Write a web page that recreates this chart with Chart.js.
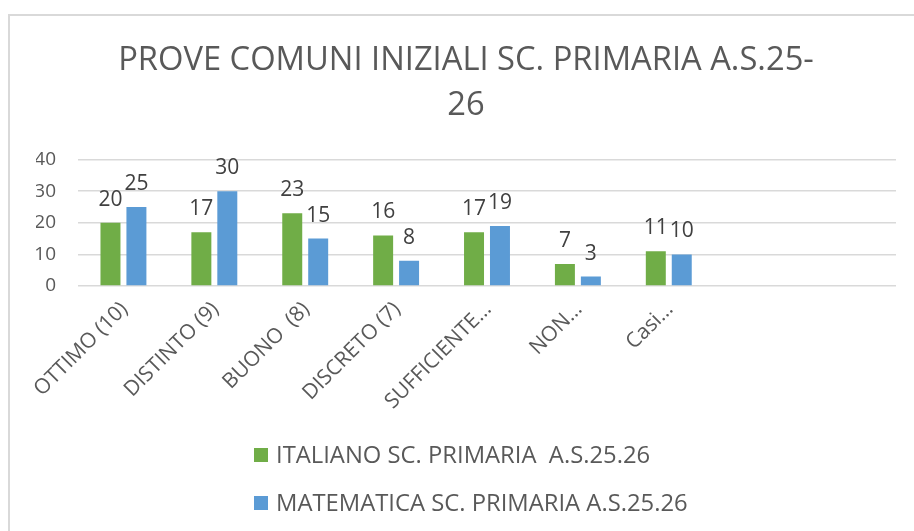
<!DOCTYPE html>
<html><head><meta charset="utf-8">
<script src="https://cdn.jsdelivr.net/npm/chart.js@4.4.1/dist/chart.umd.min.js"></script>
<style>
html,body{margin:0;padding:0;background:#fff;overflow:hidden;width:914px;height:531px;}
#frame{position:absolute;left:8px;top:14px;width:2000px;height:2000px;border:2px solid #d9d9d9;}
#c{position:absolute;left:0;top:0;}
</style></head><body>
<div id="frame"></div>
<canvas id="c" width="914" height="531"></canvas>
<script>
const categories = ['OTTIMO (10)', 'DISTINTO (9)', 'BUONO  (8)', 'DISCRETO (7)', 'SUFFICIENTE…', 'NON…', 'Casi…', '', ''];
const italiano = [20, 17, 23, 16, 17, 7, 11, null, null];
const matematica = [25, 30, 15, 8, 19, 3, 10, null, null];
const seriesNames = ['ITALIANO SC. PRIMARIA  A.S.25.26', 'MATEMATICA SC. PRIMARIA A.S.25.26'];
const titleLines = ['PROVE COMUNI INIZIALI SC. PRIMARIA A.S.25-', '26'];
const yTicks = [0, 10, 20, 30, 40];

const FONT = '"Open Sans", sans-serif';
Chart.defaults.font.family = FONT;

const valueLabels = {
  id: 'valueLabels',
  afterDatasetsDraw(chart) {
    const ctx = chart.ctx;
    ctx.save();
    ctx.font = '21px ' + FONT;
    ctx.fillStyle = '#404040';
    ctx.textAlign = 'center';
    ctx.textBaseline = 'alphabetic';
    chart.data.datasets.forEach((ds, i) => {
      const meta = chart.getDatasetMeta(i);
      meta.data.forEach((bar, j) => {
        const v = ds.data[j];
        if (v === null || v === undefined) return;
        ctx.fillText(String(v), bar.x, bar.y - 17);
      });
    });
    ctx.restore();
  }
};

const stackedLegend = {
  id: 'stackedLegend',
  afterDraw(chart) {
    const ctx = chart.ctx;
    ctx.save();
    ctx.font = '23.8px ' + FONT;
    ctx.textBaseline = 'middle';
    ctx.textAlign = 'left';
    chart.data.datasets.forEach((ds, i) => {
      const y = 455 + 48 * i;
      ctx.fillStyle = ds.backgroundColor;
      ctx.fillRect(254, y - 7, 14, 14);
      ctx.fillStyle = '#595959';
      ctx.fillText(ds.label, 276, y + 1);
    });
    ctx.restore();
  }
};

new Chart(document.getElementById('c'), {
  type: 'bar',
  data: {
    labels: categories,
    datasets: [
      { label: seriesNames[0], data: italiano, backgroundColor: '#70AD47', categoryPercentage: 0.571, barPercentage: 0.77 },
      { label: seriesNames[1], data: matematica, backgroundColor: '#5B9BD5', categoryPercentage: 0.571, barPercentage: 0.77 }
    ]
  },
  options: {
    responsive: false,
    animation: false,
    devicePixelRatio: 1,
    layout: { padding: { left: 36, right: 18, top: 0, bottom: 115 } },
    plugins: {
      legend: { display: false },
      tooltip: { enabled: false },
      title: {
        display: true,
        text: titleLines,
        color: '#595959',
        font: { family: FONT, size: 32.7, weight: 'normal', lineHeight: 1.37 },
        padding: { top: 38, bottom: 32 }
      }
    },
    scales: {
      x: {
        grid: { display: false, drawTicks: false },
        border: { display: false },
        ticks: { color: '#595959', font: { size: 21 }, maxRotation: 45, minRotation: 45, autoSkip: false, padding: 11, labelOffset: 1 },
        afterFit: s => { s.height = 130; }
      },
      y: {
        min: 0, max: 40,
        afterBuildTicks: s => { s.ticks = yTicks.map(v => ({ value: v })); },
        grid: { color: '#d9d9d9', lineWidth: 1.5, drawTicks: false },
        border: { display: false },
        ticks: { color: '#595959', font: { size: 19 }, padding: 22 },
        afterFit: s => { s.width = 42; }
      }
    }
  },
  plugins: [valueLabels, stackedLegend]
});
</script>
</body></html>
